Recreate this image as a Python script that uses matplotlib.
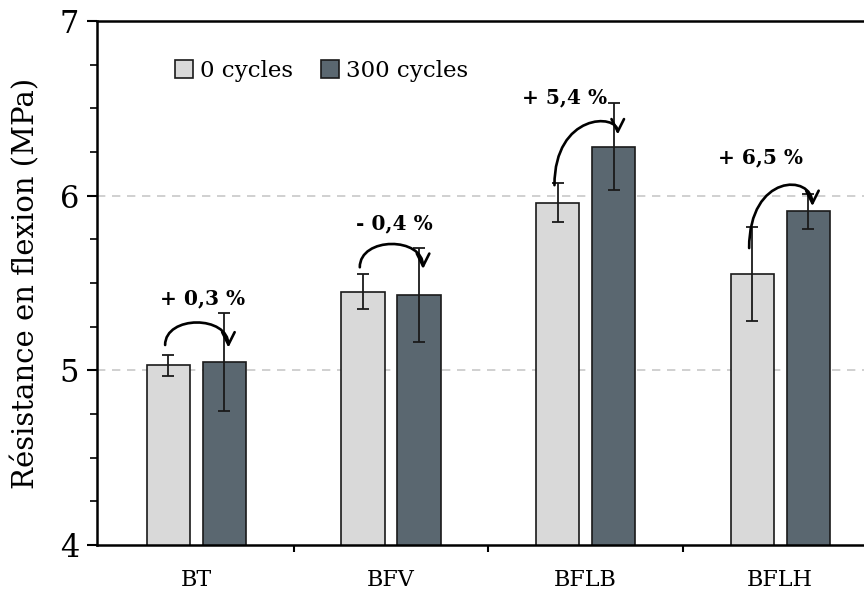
import matplotlib
matplotlib.use("Agg")
import matplotlib.pyplot as plt
from matplotlib.path import Path
from matplotlib.patches import FancyArrowPatch
from matplotlib.ticker import MultipleLocator, FixedLocator
import numpy as np

categories = ["BT", "BFV", "BFLB", "BFLH"]
series_names = ["0 cycles", "300 cycles"]
values_0 = [5.03, 5.45, 5.96, 5.55]
errors_0 = [0.06, 0.10, 0.11, 0.27]
values_300 = [5.05, 5.43, 6.28, 5.91]
errors_300 = [0.28, 0.27, 0.25, 0.10]
change_labels = ["+ 0,3 %", "- 0,4 %", "+ 5,4 %", "+ 6,5 %"]
# annotation placement (data units)
label_y = [5.41, 5.84, 6.56, 6.22]
label_dx = [0.03, 0.02, -0.11, -0.10]
arrow_start_y = [5.145, 5.59, 6.06, 5.70]
arrow_peak_y = [5.27, 5.72, 6.37, 6.02]
arrow_end_y = [5.13, 5.58, 6.35, 5.94]

plt.rcParams['font.family'] = ['DejaVu Serif']

fig = plt.figure(figsize=(8.64, 5.93), dpi=100)
ax = fig.add_axes([97/864, 1-545/593, 1-97/864+0.0, (545-21)/593])

x = np.arange(len(categories))
off = 0.144
w = 0.222
c0 = "#d9d9d9"
c1 = "#5a6770"
ekw = dict(ecolor="#1a1a1a", elinewidth=1.3, capsize=4, capthick=1.3)
ax.bar(x - off, values_0, w, color=c0, edgecolor="#1a1a1a", linewidth=1.2,
       yerr=errors_0, error_kw=ekw, label=series_names[0], zorder=2)
ax.bar(x + off, values_300, w, color=c1, edgecolor="#1a1a1a", linewidth=1.2,
       yerr=errors_300, error_kw=ekw, label=series_names[1], zorder=2)

ax.set_ylim(4, 7)
ax.set_xlim(-0.51, 3.43)
ax.yaxis.set_major_locator(MultipleLocator(1))
ax.yaxis.set_minor_locator(MultipleLocator(0.25))
ax.set_xticks(x)
ax.set_xticklabels(categories, fontsize=16)
ax.xaxis.set_minor_locator(FixedLocator([0.5, 1.5, 2.5]))
ax.tick_params(axis='x', which='major', length=0, pad=17)
ax.tick_params(axis='x', which='minor', length=5, width=1.5, direction='out')
ax.tick_params(axis='y', which='major', length=7, width=1.5, direction='out', labelsize=22, pad=6)
ax.tick_params(axis='y', which='minor', length=5, width=1.2, direction='out')
ax.set_ylabel("Résistance en flexion (MPa)", fontsize=21, labelpad=14)

for y in [5, 6]:
    ax.axhline(y, color="#c8c8c8", linestyle=(0, (5, 4)), linewidth=1.2, zorder=0)

ax.spines['right'].set_visible(False)
for s in ['left', 'bottom', 'top']:
    ax.spines[s].set_linewidth(1.8)

for i in range(len(categories)):
    x0 = x[i] - 0.16
    x1 = x[i] + 0.165
    ys, yp, ye = arrow_start_y[i], arrow_peak_y[i], arrow_end_y[i]
    # cubic bezier with vertical tangents at ends; peak approx 0.75 of control offset
    cy0 = ys + (yp - ys) / 0.75
    cy1 = ye + (yp - ye) / 0.75
    ctrl = max(cy0, cy1)
    path = Path([(x0, ys), (x0, ctrl), (x1, ctrl), (x1, ye)],
                [Path.MOVETO, Path.CURVE4, Path.CURVE4, Path.CURVE4])
    arr = FancyArrowPatch(path=path, arrowstyle="->,head_length=9,head_width=4.5",
                          color="black", lw=1.9, zorder=4, mutation_scale=1)
    ax.add_patch(arr)
    ax.text(x[i] + label_dx[i], label_y[i], change_labels[i], ha='center', va='center',
            fontsize=14.5, fontweight='bold', zorder=5)

leg = ax.legend(loc='upper left', bbox_to_anchor=(0.075, 0.965), ncol=2, frameon=False,
                fontsize=16.5, handlelength=0.8, handleheight=0.8, handletextpad=0.3,
                columnspacing=1.2)

fig.savefig("out.png", dpi=100)
